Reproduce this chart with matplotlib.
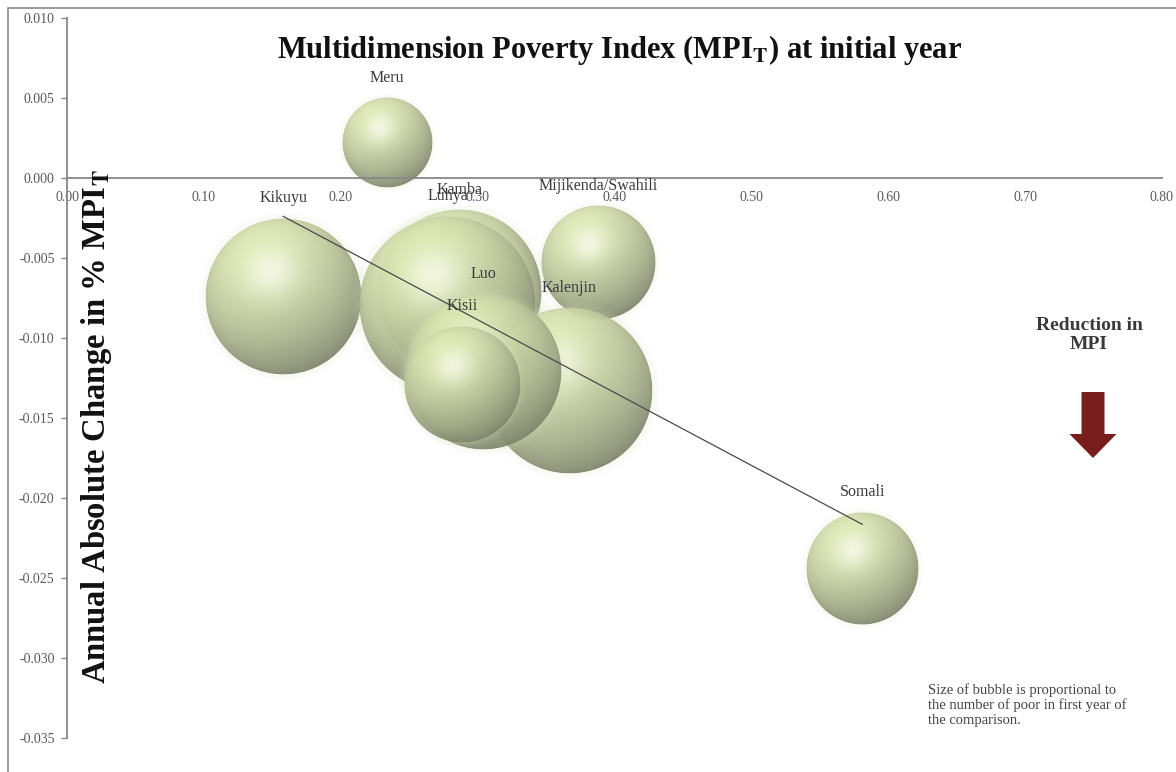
import numpy as np
import matplotlib
matplotlib.use("Agg")
import matplotlib.pyplot as plt
from matplotlib.offsetbox import OffsetImage, AnnotationBbox
from matplotlib.patches import Rectangle, FancyArrow

# MPI at initial year vs annual absolute change, bubble = number of poor
groups = ["Meru", "Kikuyu", "Mijikenda/Swahili", "Somali", "Kamba",
          "Luhya", "Kalenjin", "Luo", "Kisii"]
mpi_initial = [0.234, 0.158, 0.388, 0.581, 0.287, 0.278, 0.367, 0.304, 0.289]
mpi_change = [0.0022, -0.0074, -0.0053, -0.0244, -0.0071, -0.0079,
              -0.0133, -0.0121, -0.0129]
poor = [0.89, 2.67, 1.43, 1.38, 2.95, 3.40, 3.02, 2.67, 1.48]

x_ticks = [0.0, 0.1, 0.2, 0.3, 0.4, 0.5, 0.6, 0.7, 0.8]
y_ticks = [0.010, 0.005, 0.0, -0.005, -0.010, -0.015, -0.020, -0.025,
           -0.030, -0.035]

DPI = 100
MAX_R = 88  # radius in px of the largest bubble
SERIF = "Liberation Serif"

plt.rcParams["font.family"] = SERIF
plt.rcParams["mathtext.fontset"] = "stix"


def sphere(radius, pad=1.10):
    """RGBA image of a shaded sphere bubble with a faint halo."""
    n = int(np.ceil(2 * radius * pad)) | 1
    c = (n - 1) / 2
    yy, xx = np.mgrid[0:n, 0:n]
    u = (xx - c) / radius
    v = -(yy - c) / radius
    rr = np.sqrt(u ** 2 + v ** 2)
    nz = np.sqrt(np.clip(1 - rr ** 2, 0, 1))

    light = np.array([-0.32, 0.61, 0.73])
    light /= np.linalg.norm(light)
    half = light + np.array([0, 0, 1.0])
    half /= np.linalg.norm(half)

    ndotl = u * light[0] + v * light[1] + nz * light[2]
    wrap = np.clip(0.5 + 0.5 * ndotl, 0, 1) ** 1.5
    dark = np.array([116, 122, 100]) / 255
    lite = np.array([222, 233, 180]) / 255
    rgb = dark + (lite - dark) * wrap[..., None]

    spec = np.clip(u * half[0] + v * half[1] + nz * half[2], 0, 1) ** 18
    white = np.array([248, 251, 234]) / 255
    rgb = rgb + (white - rgb) * (0.8 * spec)[..., None]

    inside = np.clip((1 - rr) * radius + 0.5, 0, 1)
    halo = np.clip(1 - (rr - 1) / (pad - 1), 0, 1) * 0.2
    halo_col = np.array([214, 226, 184]) / 255
    rgb = rgb * inside[..., None] + halo_col * (1 - inside[..., None])
    alpha = np.maximum(inside * 0.94, halo * (rr > 1))
    return np.dstack([rgb, alpha])


fig = plt.figure(figsize=(11.76, 7.72), dpi=DPI)
ax = fig.add_axes([67 / 1176, 34 / 772, 1095 / 1176, 720 / 772])
ax.set_xlim(0, 0.8)
ax.set_ylim(-0.035, 0.010)

for side in ["top", "right"]:
    ax.spines[side].set_visible(False)
ax.spines["bottom"].set_position(("data", 0))
for side in ["left", "bottom"]:
    ax.spines[side].set_color("#878787")
    ax.spines[side].set_linewidth(1.3)

ax.set_xticks(x_ticks)
ax.set_xticklabels([f"{t:.2f}" for t in x_ticks])
ax.set_yticks(y_ticks)
ax.set_yticklabels([f"{t:.3f}" for t in y_ticks])
ax.tick_params(axis="x", length=0, pad=9, labelsize=10, labelcolor="#5a5a5a")
ax.tick_params(axis="y", length=4, width=1, color="#878787", pad=5,
               labelsize=10, labelcolor="#5a5a5a")

radii = [MAX_R * np.sqrt(p / max(poor)) for p in poor]

for i, (name, x, y, r) in enumerate(zip(groups, mpi_initial, mpi_change, radii)):
    img = OffsetImage(sphere(r), zoom=1, dpi_cor=False, interpolation="bilinear")
    ab = AnnotationBbox(img, (x, y), xycoords="data", frameon=False,
                        box_alignment=(0.5, 0.5), pad=0)
    ab.set_zorder(2 + i)
    ax.add_artist(ab)

for name, x, y, r in zip(groups, mpi_initial, mpi_change, radii):
    ax.annotate(name, (x, y), xytext=(0, (r + 20) * 72 / DPI),
                textcoords="offset points", ha="center", va="center",
                fontsize=11.5, color="#3c3c3c", zorder=30)

# linear trend line across the groups
slope, intercept = np.polyfit(mpi_initial, mpi_change, 1)
xs = np.array([min(mpi_initial), max(mpi_initial)])
ax.plot(xs, slope * xs + intercept, color="#4a4a4a", lw=0.9, zorder=25)

fig.add_artist(Rectangle((8 / 1176, -0.05), 1.1, 764 / 772 + 0.05,
                         transform=fig.transFigure, fill=False,
                         ec="#8a8a8a", lw=1.2))

fig.text(620 / 1176, 1 - 50 / 772,
         r"Multidimension Poverty Index (MPI$_\mathbf{T}$) at initial year",
         ha="center", va="center", fontsize=22, fontweight="bold",
         color="#111111")
fig.text(97 / 1176, 1 - 427 / 772,
         r"Annual Absolute Change in % MPI$_\mathbf{T}$",
         ha="center", va="center", rotation=90, fontsize=23.5,
         fontweight="bold", color="#111111")

fig.text(1089 / 1176, 1 - 335 / 772, "Reduction in\nMPI", ha="center",
         va="center", fontsize=14, fontweight="bold", color="#3a3a3a",
         linespacing=1.1)
fig.add_artist(FancyArrow(10.93, 3.80, 0, -0.66, width=0.23,
                          head_width=0.47, head_length=0.24,
                          length_includes_head=True,
                          transform=fig.dpi_scale_trans,
                          color="#7a1d1d", lw=0))

fig.text(928 / 1176, 1 - 683 / 772,
         "Size of bubble is proportional to\n"
         "the number of poor in first year of\n"
         "the comparison.",
         ha="left", va="top", fontsize=10.5, color="#444444", linespacing=1.15)

fig.savefig("out.png", dpi=DPI)
